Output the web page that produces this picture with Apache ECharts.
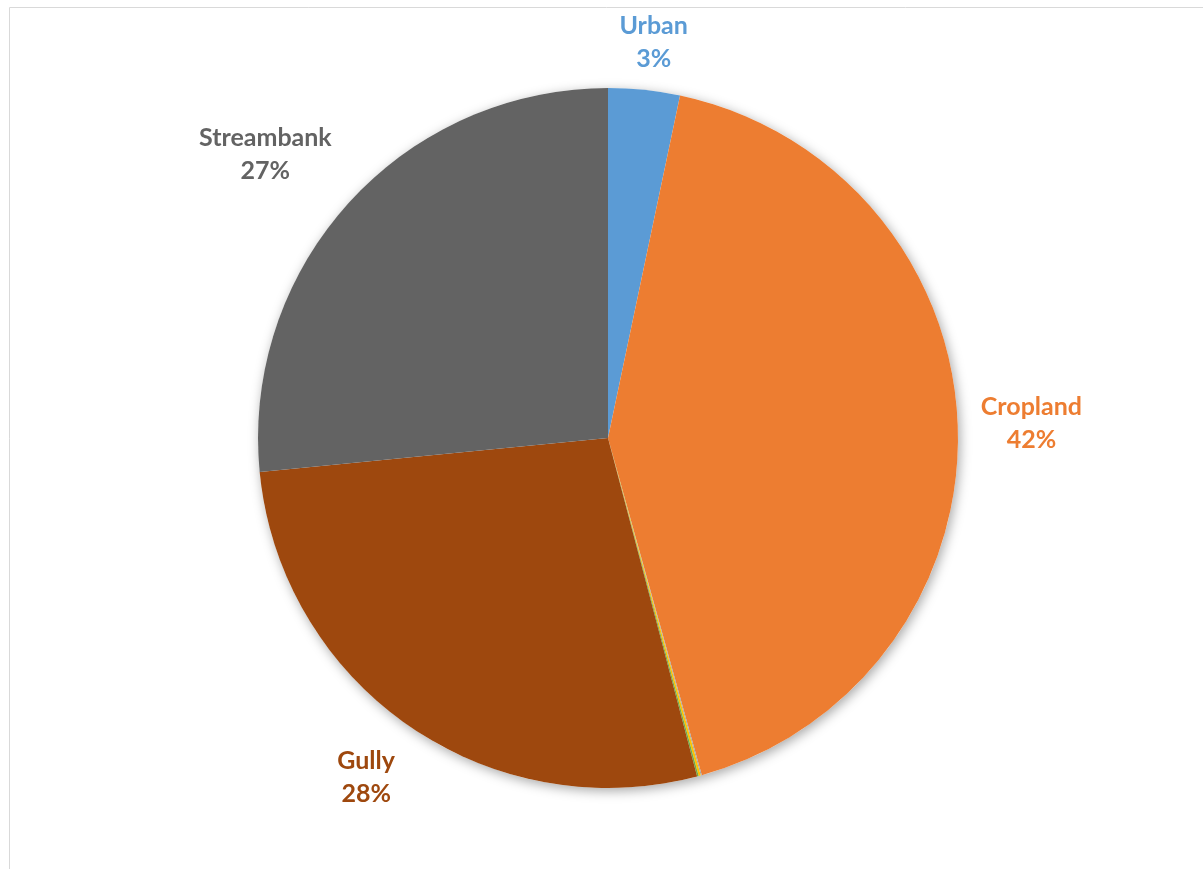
<!DOCTYPE html>
<html>
<head>
<meta charset="utf-8">
<script src="https://cdn.jsdelivr.net/npm/echarts@6/dist/echarts.min.js"></script>
<style>
html,body{margin:0;padding:0;background:#fff;}
#chart{width:1203px;height:869px;}
</style>
</head>
<body>
<div id="chart"></div>
<script>
// Data (percent shares)
const categories = ['Urban', 'Cropland', 'Other 1', 'Other 2', 'Other 3', 'Gully', 'Streambank'];
const values = [3.3, 42.38, 0.05, 0.10, 0.07, 27.55, 26.55];
const colors = ['#5B9BD5', '#ED7D31', '#A5A5A5', '#FFC000', '#70AD47', '#9E480E', '#636363'];
const showLabel = [true, true, false, false, false, true, true];

const CX = 608, CY = 438, R = 350, GAP = 23, TOP_LIMIT = 9;
const total = values.reduce((a, b) => a + b, 0);
const midAngles = [];
(function () {
  let acc = 0;
  values.forEach(v => { midAngles.push((acc + v / 2) / total * 2 * Math.PI); acc += v; });
})();
const clamp1 = t => Math.max(-1, Math.min(1, t * 2));

const chart = echarts.init(document.getElementById('chart'));
chart.setOption({
  animation: false,
  graphic: [{
    type: 'rect', left: 7, top: 5, silent: true,
    shape: { width: 1400, height: 1000 },
    style: { fill: 'none', stroke: '#D9D9D9', lineWidth: 1 }
  }],
  series: [
    {
      type: 'pie', silent: true, center: [CX, CY], radius: R, z: 1,
      label: { show: false }, labelLine: { show: false },
      itemStyle: { color: '#ffffff', shadowBlur: 12, shadowColor: 'rgba(0,0,0,0.35)', shadowOffsetX: 2, shadowOffsetY: 3 },
      data: [{ value: 1, name: '' }]
    },
    {
      type: 'pie', center: [CX, CY], radius: R, z: 2,
      startAngle: 90, clockwise: true,
      itemStyle: { borderWidth: 0 },
      label: {
        position: 'outside',
        fontFamily: 'Lato', fontWeight: 'bold', fontSize: 25, lineHeight: 33,
        align: 'center',
        formatter: p => p.name + '\n' + Math.round(p.percent) + '%'
      },
      labelLine: { show: false },
      labelLayout: function (params) {
        const i = params.dataIndex;
        const a = midAngles[i];
        const w = params.labelRect.width, h = params.labelRect.height;
        const s = Math.sin(a), c = Math.cos(a);
        const d = R + GAP;
        const x = CX + d * s + w / 2 * clamp1(s);
        let y = CY - d * c - h / 2 * clamp1(c);
        y = Math.max(y, TOP_LIMIT + h / 2);
        return { x: x, y: y, align: 'center', verticalAlign: 'middle' };
      },
      data: categories.map((n, i) => ({
        name: n, value: values[i],
        itemStyle: { color: colors[i] },
        label: { show: showLabel[i], color: colors[i] }
      }))
    }
  ]
});
</script>
</body>
</html>
